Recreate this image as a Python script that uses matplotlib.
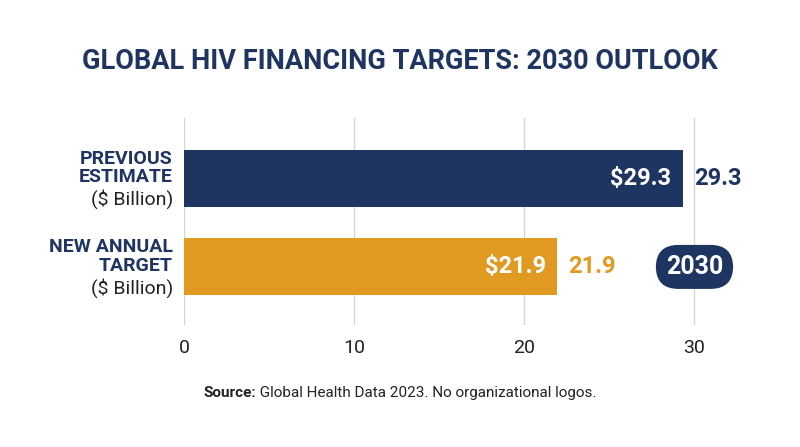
import matplotlib
matplotlib.use("Agg")
import matplotlib.pyplot as plt

categories = [("PREVIOUS\nESTIMATE", "($ Billion)"), ("NEW ANNUAL\nTARGET", "($ Billion)")]
values = [29.3, 21.9]
colors = ["#1e3461", "#e09a22"]
navy = "#1e3461"
xticks = [0, 10, 20, 30]

plt.rcParams['font.family'] = ['Roboto', 'DejaVu Sans']
fig = plt.figure(figsize=(8, 4.47), dpi=100)
ax = fig.add_axes([0.23, 0.273, 0.67, 0.463])
ys = list(range(len(values)))
ax.barh(ys, values, height=0.645, color=colors, zorder=3)
ax.set_ylim(1.655, -0.68)
ax.set_xlim(0, 31.5)
ax.set_xticks(xticks)
ax.set_xticklabels([str(t) for t in xticks], fontsize=14, color="#222222")
ax.set_yticks([])
ax.grid(axis='x', color="#d5d5d5", lw=1, zorder=0)
for s in ax.spines.values():
    s.set_visible(False)
ax.tick_params(axis='x', length=0, pad=10)

for y, v, c, (main, sub) in zip(ys, values, colors, categories):
    ax.annotate(f"${v}", (v, y), xytext=(-8, 0), textcoords='offset points',
                ha='right', va='center', color='white', fontsize=17, fontweight='bold', zorder=4)
    ax.annotate(f"{v}", (v, y), xytext=(8, 0), textcoords='offset points',
                ha='left', va='center', color=c, fontsize=17, fontweight='bold', zorder=4)
    ax.annotate(main, (0, y), xytext=(-8, 7.5), textcoords='offset points',
                ha='right', va='center', color=navy, fontsize=14, fontweight='bold', linespacing=1.05,
                annotation_clip=False)
    ax.annotate(sub, (0, y), xytext=(-8, -15), textcoords='offset points',
                ha='right', va='center', color="#222222", fontsize=14, annotation_clip=False)

ax.text(30, 1, "2030", ha='center', va='center', color='white', fontsize=18, fontweight='bold',
        bbox=dict(boxstyle="round,pad=0.4,rounding_size=0.9", fc=navy, ec='none'), zorder=5)

fig.text(0.5, 0.862, "GLOBAL HIV FINANCING TARGETS: 2030 OUTLOOK", ha='center', va='center',
         fontsize=19.5, fontweight='bold', color=navy)

r = fig.canvas.get_renderer()
t1 = fig.text(0, 0.12, "Source:", fontsize=11, fontweight='bold', color="#222222", va='center')
t2 = fig.text(0, 0.12, " Global Health Data 2023. No organizational logos.", fontsize=11, color="#222222", va='center')
w1 = t1.get_window_extent(r).width
w2 = t2.get_window_extent(r).width
x0 = (800 - w1 - w2) / 2
t1.set_x(x0 / 800)
t2.set_x((x0 + w1) / 800)

fig.savefig("out.png", dpi=100, facecolor='white')
